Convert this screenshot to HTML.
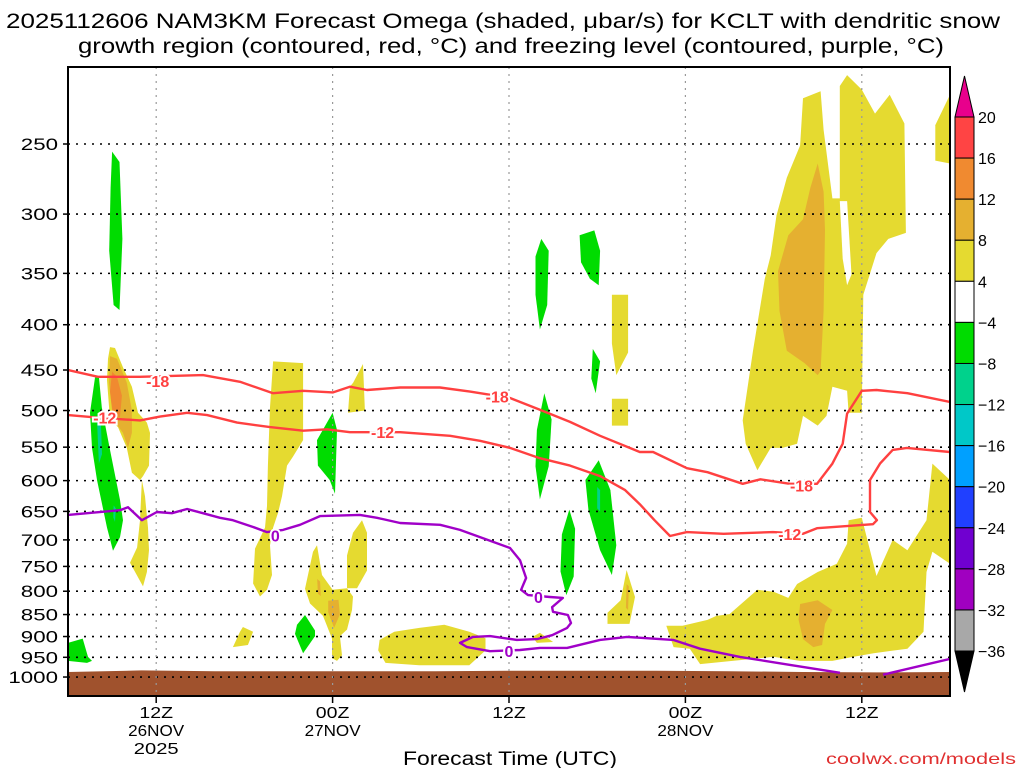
<!DOCTYPE html>
<html><head><meta charset="utf-8"><style>
html,body{margin:0;padding:0;background:#fff;}
svg{display:block;font-family:"Liberation Sans",sans-serif;}
</style></head><body>
<svg id="chart" width="1024" height="768" viewBox="0 0 1024 768" xmlns="http://www.w3.org/2000/svg">
<rect width="1024" height="768" fill="#fff"/>
<text x="6" y="28" font-size="21" textLength="994" lengthAdjust="spacingAndGlyphs">2025112606 NAM3KM Forecast Omega (shaded, μbar/s) for KCLT with dendritic snow</text>
<text x="78" y="53" font-size="21" textLength="866" lengthAdjust="spacingAndGlyphs">growth region (contoured, red, °C) and freezing level (contoured, purple, °C)</text>
<g id="plot"></g>
<g id="axes"></g>
<g id="cbar"></g>
<text x="403" y="765" font-size="19" textLength="214" lengthAdjust="spacingAndGlyphs">Forecast Time (UTC)</text>
<text x="826" y="764" font-size="16" fill="#e03030" textLength="190" lengthAdjust="spacingAndGlyphs">coolwx.com/models</text>
</svg>
<script>
// ---- data ----
const xTickHours = [6, 18, 30, 42, 54];
const xTickLine1 = ["12Z", "00Z", "12Z", "00Z", "12Z"];
const xTickLine2 = ["26NOV", "27NOV", "", "28NOV", ""];
const xTickLine3 = ["2025", "", "", "", ""];
const pressureTicks = [250,300,350,400,450,500,550,600,650,700,750,800,850,900,950,1000];
const cbarLevels = ["20","16","12","8","4","-4","-8","-12","-16","-20","-24","-28","-32","-36"];
const cbarColors = ["#ff4444","#f08a30","#e5b030","#e5da30","#ffffff","#00dc00","#00d28c","#00c8c8","#00a0ff","#2040ff","#7000d0","#a000c0","#a8a8a8"];
const surfaceHours = [0,5,10,15,20,25,30,35,40,45,50,55,60];
const surfacePressure = [987,983,985,985,985,985,984,984,984,985,987,988,987];

const yellowA=[[2.86,424],[3.2,425],[3.74,447],[4.35,470],[4.76,503],[5.37,516],[5.58,530],[5.51,577],[5.1,593],[4.9,599],[4.35,588],[4.0,551],[3.4,522],[2.86,512],[2.65,462],[2.72,437]];
const yellowAstem=[[5.03,599],[5.24,625],[5.44,678],[5.51,719],[5.37,761],[5.1,790],[4.22,743],[4.7,714],[4.9,665]];
const goldA=[[2.86,434],[3.33,437],[4.0,465],[4.35,500],[4.35,530],[4.08,551],[3.74,530],[3.06,512],[2.79,465]];
const orangeA=[[3.0,452],[3.33,458],[3.67,481],[3.54,509],[3.06,506],[2.86,476]];
const greenTall=[[3.0,255],[3.5,262],[3.7,320],[3.5,385],[3.1,380],[2.8,330],[2.9,280]];
const greenSlant=[[1.84,459],[2.1,458],[2.3,496],[2.86,554],[3.54,631],[3.74,665],[3.54,695],[3.06,720],[2.65,678],[1.97,599],[1.63,551],[1.5,503]];
const tealSlant=[[1.97,513],[2.24,517],[2.31,560],[2.1,574]];
const tealSlant2=[[3.1,640],[3.25,645],[3.2,668],[3.08,660]];
const yellowB=[[13.95,440],[15.99,442],[15.99,540],[15.3,564],[14.9,577],[14.56,625],[14.29,652],[13.95,678],[13.74,710],[13.88,767],[13.54,797],[13.06,811],[12.59,784],[12.72,716],[13.4,678],[13.54,641],[13.6,577],[13.74,496]];
const yellowC=[[19.4,465],[20.07,443],[20.2,500],[19.05,503],[19.18,470]];
const greenD=[[18.0,503],[18.3,526],[18.16,621],[17.8,599],[17.0,577],[16.94,540]];
const yellowE=[[16.94,710],[17.28,767],[18.0,797],[18.98,794],[19.39,811],[19.32,840],[18.98,884],[18.5,899],[18.64,945],[18.3,959],[17.96,952],[17.96,905],[17.35,853],[16.46,826],[16.12,795],[16.67,722]];
const goldE=[[17.7,820],[18.4,818],[18.5,850],[18.1,880],[17.7,845]];
const goldE2=[[16.95,775],[17.15,780],[17.2,810],[17.0,805]];
const yellowF=[[20.0,665],[20.34,687],[20.34,758],[19.66,794],[18.98,794],[18.98,729],[19.39,687]];
const greenG=[[16.12,851],[16.8,886],[16.8,899],[15.99,940],[15.44,894],[15.58,873]];
const yellowH=[[11.9,878],[12.59,889],[12.24,920],[11.22,925],[11.7,889]];
const greenI=[[0,915],[1.0,905],[1.36,949],[1.63,959],[1.29,964],[0,959]];
const yellowJ=[[21.2,908],[22.2,889],[23.9,880],[25.6,873],[27.3,889],[28.4,904],[28.4,933],[27.3,970],[23.9,970],[21.6,964],[21.1,933]];
const yellowK=[[31.6,901],[32.1,891],[33.0,913],[31.9,915]];
const greenL=[[32.2,320],[32.7,330],[32.6,380],[32.1,405],[31.8,370],[31.8,335]];
const greenM=[[32.4,478],[32.9,512],[32.7,578],[32.1,630],[31.8,578],[31.9,526]];
const greenN=[[34.8,317],[35.8,313],[36.2,330],[36.1,361],[35.5,355],[34.9,340]];
const yellowO=[[37.0,370],[38.1,370],[38.1,430],[37.3,456],[37.0,420]];
const greenP=[[35.7,426],[36.2,440],[35.9,478],[35.6,460]];
const yellowQ=[[37.0,485],[38.1,485],[38.1,520],[37.0,520]];
const greenR=[[36.1,569],[36.9,615],[37.3,710],[37.0,767],[36.2,719],[35.4,647],[35.2,599]];
const tealR=[[36.0,610],[36.2,615],[36.2,650],[36.0,645]];
const greenS=[[34.1,647],[34.5,680],[34.4,770],[33.9,808],[33.5,760],[33.6,690]];
const yellowT=[[38.0,757],[38.57,812],[38.2,871],[36.7,871],[36.7,846],[37.6,819]];
const goldT=[[38.0,785],[38.15,790],[38.1,840],[37.95,835]];
const yellowU=[[50.0,222],[51.2,218],[51.4,241],[52.0,288],[52.5,288],[52.5,215],[53.0,209],[54.0,217],[54.9,231],[55.9,220],[56.9,237],[57.0,315],[55.8,320],[55.0,332],[54.1,370],[54.0,503],[53.1,503],[53.0,475],[52.0,470],[51.6,507],[51.0,520],[50.0,507],[49.6,545],[48.6,551],[47.8,551],[46.9,584],[46.1,545],[45.9,513],[46.6,428],[47.4,355],[47.8,334],[48.2,301],[48.9,273],[49.8,251]];
const holeU=[[52.5,290],[53.0,290],[53.3,351],[53.0,361],[52.7,337]];
const goldU=[[51.0,263],[51.4,283],[51.5,313],[51.4,386],[51.2,451],[51.0,456],[50.1,442],[48.9,428],[48.4,386],[48.3,348],[49.0,317],[50.0,304],[50.5,280]];
const yellowV=[[59.0,238],[60,220],[60,263],[59.0,261]];
const yellowW=[[40.7,875],[41.8,875],[43.5,862],[44.1,853],[45.0,849],[46.9,797],[48.0,801],[49.0,814],[49.6,785],[51.0,761],[52.3,745],[53.0,707],[53.1,665],[54.0,661],[55.0,769],[56.1,700],[57.1,719],[58.4,665],[58.8,574],[60,599],[60,745],[58.8,722],[58.4,761],[58.2,889],[57.1,929],[54.8,940],[53.4,949],[52.0,959],[49.8,959],[48.0,949],[45.2,959],[43.0,967],[42.3,929],[41.2,925]];
const goldW=[[49.8,827],[51.0,819],[52.0,840],[51.5,871],[51.3,920],[50.7,925],[50.0,906],[49.7,862]];

const shadeList=[
 ["yellow-a",yellowA,6],["yellow-a-stem",yellowAstem,6],["gold-a",goldA,10],["orange-a",orangeA,14],
 ["green-tall",greenTall,-6],["green-slant",greenSlant,-6],["teal-slant",tealSlant,-10],["teal-slant-2",tealSlant2,-10],
 ["yellow-b",yellowB,6],["yellow-c",yellowC,6],["green-d",greenD,-6],["yellow-e",yellowE,6],["gold-e",goldE,10],["gold-e2",goldE2,10],
 ["yellow-f",yellowF,6],["green-g",greenG,-6],["yellow-h",yellowH,6],["green-i",greenI,-6],["yellow-j",yellowJ,6],["yellow-k",yellowK,6],
 ["green-l",greenL,-6],["green-m",greenM,-6],["green-n",greenN,-6],["yellow-o",yellowO,6],["green-p",greenP,-6],["yellow-q",yellowQ,6],
 ["green-r",greenR,-6],["teal-r",tealR,-10],["green-s",greenS,-6],["yellow-t",yellowT,6],["gold-t",goldT,10],
 ["yellow-u",yellowU,6],["hole-u",holeU,0],["gold-u",goldU,10],["yellow-v",yellowV,6],["yellow-w",yellowW,6],["gold-w",goldW,10]
];

const minus18Hours=[0,2.04,4.9,9.18,11.7,13.95,15.99,18.03,19.18,20.34,22.6,25.3,27.35,30.07,32.1,34.15,36.2,38.9,39.8,42.1,43.5,45.9,47.1,49.1,50.95,52.0,52.7,53.0,54.0,55.0,57.1,60];
const minus18Pres=[450,458,458,456,464,478,475,477,470,474,471,471,476,484,499,515,534,557,557,581,587,605,598,605,605,574,545,504,475,474,478,489];
const minus12Hours=[0,2.38,4.9,6.26,8.1,9.46,11.5,13.74,15.99,17.62,19.18,22.6,25.99,28.03,30.07,32.1,34.15,36.2,37.9,38.9,39.9,40.95,42.1,44.6,47.96,50.0,50.95,54.76,55.03,54.56,54.56,55.24,56.1,57.07,60];
const minus12Pres=[506,510,513,508,503,506,516,522,527,525,529,529,534,541,551,566,577,593,615,638,665,693,686,689,686,689,679,672,665,651,599,574,554,551,557];
const zeroHours=[0,3.54,4.08,5.03,6.05,7.07,8.1,9.18,10.34,11.22,12.59,13.54,14.63,15.78,17.14,19.86,21.02,22.59,25.31,26.67,28.03,30.07,30.75,31.16,30.82,31.29,32.79,33.67,32.93,32.99,34.01,34.22,33.95,32.93,31.9,30.54,28.71,27.55,26.67,27.14,28.71,30.75,32.1,33.95,36.19,38.03,41.16,42.99,45.71,49.12,52.52];
const zeroPres=[656,648,643,665,651,653,646,653,661,665,677,686,682,673,658,656,661,670,673,682,695,715,738,773,797,808,812,814,834,844,851,869,880,897,906,908,899,901,915,925,935,932,927,927,908,901,908,929,949,969,989];
const zero2Hours=[55.44,60];
const zero2Pres=[994,954];
const labels18=[[6.1,463],[29.2,482],[49.9,608]];
const labels12=[[2.5,509],[21.4,529],[49.1,689]];
const labels0=[[14.1,692],[32.0,812],[30.0,935]];

// ---- scales ----
const X0=68, X1=950, Y0=67, Y1=696;
function xs(h){return X0+h*(X1-X0)/60;}
function ys(p){return 144+384.5*Math.log(p/250);}
function levelColor(v){
  if(v>=12) return "#f08a30";
  if(v>=8) return "#e5b030";
  if(v>=4) return "#e5da30";
  if(v>-4) return "#ffffff";
  if(v>-8) return "#00dc00";
  if(v>-12) return "#00d28c";
  return "#00c8c8";
}
const NS="http://www.w3.org/2000/svg";
function mk(tag,attrs,parent){const e=document.createElementNS(NS,tag);for(const k in attrs)e.setAttribute(k,attrs[k]);parent.appendChild(e);return e;}
const plot=document.getElementById('plot');
const axes=document.getElementById('axes');
const cbar=document.getElementById('cbar');

const defs=mk('defs',{},plot);
const cp=mk('clipPath',{id:'pc'},defs);
mk('rect',{x:X0,y:Y0,width:X1-X0,height:Y1-Y0},cp);
const g=mk('g',{'clip-path':'url(#pc)'},plot);

shadeList.forEach(s=>{
  const d=s[1].map((pt,i)=>(i?'L':'M')+xs(pt[0]).toFixed(1)+','+ys(pt[1]).toFixed(1)).join('')+'Z';
  const el=mk('path',{d:d,fill:levelColor(s[2])},g);
  
  
});

(function(){
  let d='M'+xs(surfaceHours[0])+','+Y1;
  surfaceHours.forEach((h,i)=>{d+='L'+xs(h).toFixed(1)+','+ys(surfacePressure[i]).toFixed(1);});
  d+='L'+xs(surfaceHours[surfaceHours.length-1])+','+Y1+'Z';
  const el=mk('path',{d:d,fill:'#a0522d'},g);
  
  
})();

pressureTicks.forEach(p=>{
  const el=mk('line',{x1:X0,x2:X1,y1:ys(p),y2:ys(p),stroke:'#000','stroke-width':1.6,'stroke-dasharray':'2,6'},g);
  
  
});
xTickHours.forEach(h=>{
  const el=mk('line',{x1:xs(h),x2:xs(h),y1:Y0,y2:Y1,stroke:'#999','stroke-width':1.2,'stroke-dasharray':'2,5'},g);
  
  
});

function line(hs,ps,color,name){
  const d=hs.map((h,i)=>(i?'L':'M')+xs(h).toFixed(1)+','+ys(ps[i]).toFixed(1)).join('');
  const el=mk('path',{d:d,fill:'none',stroke:color,'stroke-width':2.4,'stroke-linejoin':'round'},g);
  
  
}
line(minus18Hours,minus18Pres,'#ff4040','contour-minus18');
line(minus12Hours,minus12Pres,'#ff4040','contour-minus12');
line(zeroHours,zeroPres,'#a000c8','freezing-level-0');
line(zero2Hours,zero2Pres,'#a000c8','freezing-level-0-right');
function labs(arr,txt,color,name){
  arr.forEach(a=>{
    const t=mk('text',{x:xs(a[0]),y:ys(a[1])+6,'font-size':16,'font-weight':'bold',fill:color,'text-anchor':'middle',stroke:'#fff','stroke-width':4,'paint-order':'stroke'},g);
    t.textContent=txt;
    
    
  });
}
labs(labels18,'-18','#ff4040','contour-label-minus18');
labs(labels12,'-12','#ff4040','contour-label-minus12');
labs(labels0,'0','#a000c8','contour-label-zero');

mk('rect',{x:X0,y:Y0,width:X1-X0,height:Y1-Y0,fill:'none',stroke:'#000','stroke-width':2},axes);

pressureTicks.forEach(p=>{
  mk('line',{x1:X0-5,x2:X0,y1:ys(p),y2:ys(p),stroke:'#000','stroke-width':1.5},axes);
  const s=String(p);
  const w=s.length*12.4;
  const t=mk('text',{x:58-w,y:ys(p)+6,'font-size':17,textLength:w,lengthAdjust:'spacingAndGlyphs'},axes);
  t.textContent=s;
  
  
});
xTickHours.forEach((h,i)=>{
  mk('line',{x1:xs(h),x2:xs(h),y1:Y1,y2:Y1+7,stroke:'#000','stroke-width':1.5},axes);
  [xTickLine1[i],xTickLine2[i],xTickLine3[i]].forEach((s,j)=>{
    if(!s) return;
    const w=s.length*11.2;
    const t=mk('text',{x:xs(h)-w/2,y:718+j*18,'font-size':16,textLength:w,lengthAdjust:'spacingAndGlyphs'},axes);
    t.textContent=s;
    
    
  });
});

(function(){
  const cx=955, cw=19, top=117, step=41.08;
  const tri1=mk('path',{d:`M${cx},${top}L${cx+cw/2},${top-41}L${cx+cw},${top}Z`,fill:'#e8008c',stroke:'#000','stroke-width':1},cbar);
  
  
  cbarColors.forEach((c,i)=>{
    const r=mk('rect',{x:cx,y:top+i*step,width:cw,height:step,fill:c,stroke:'#000','stroke-width':1},cbar);
    
    
  });
  const yb=top+cbarColors.length*step;
  const tri2=mk('path',{d:`M${cx},${yb}L${cx+cw/2},${yb+41}L${cx+cw},${yb}Z`,fill:'#000',stroke:'#000','stroke-width':1},cbar);
  
  
  cbarLevels.forEach((l,i)=>{
    const t=mk('text',{x:978,y:top+i*step+6,'font-size':16},cbar);
    t.textContent=l.replace('-','\u2212');
    
    
  });
})();
</script>
</body></html>
